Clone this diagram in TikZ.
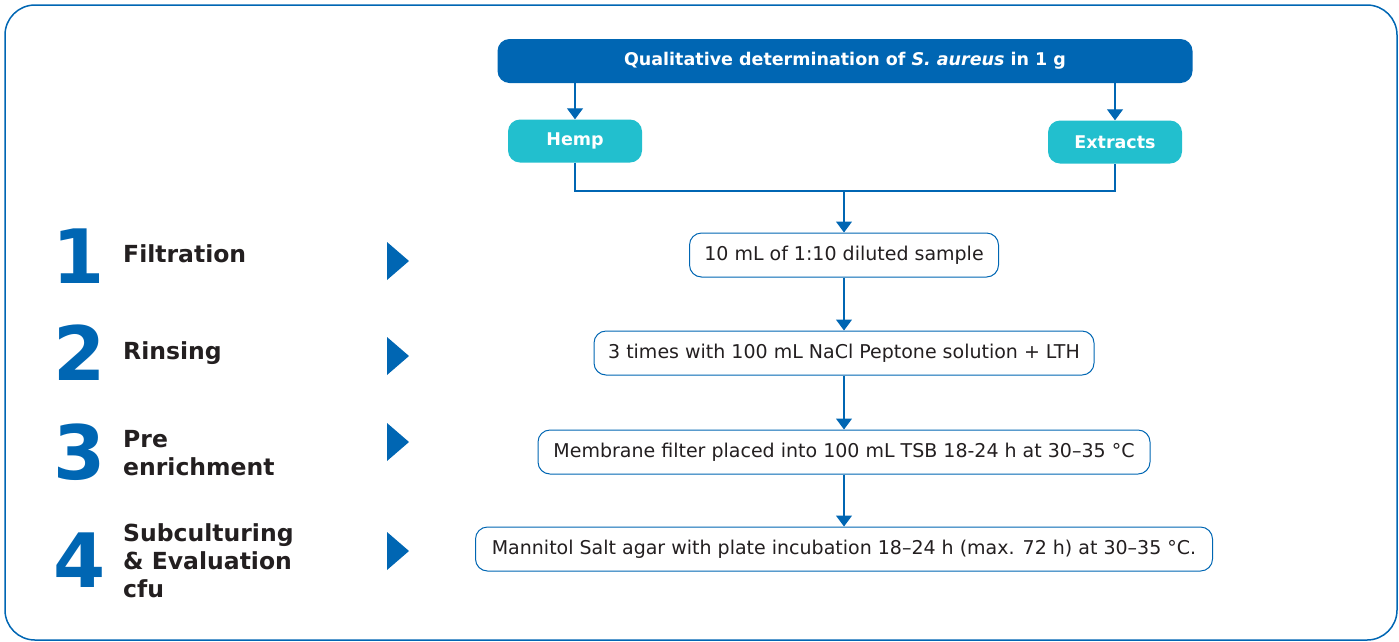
\documentclass[tikz,border=0pt]{standalone}
\usepackage{fontspec}
\setmainfont{DejaVu Sans}
\usepackage{xcolor}
\usetikzlibrary{arrows.meta}
\usetikzlibrary{positioning}

\definecolor{mblue}{HTML}{0066B3}
\definecolor{mcyan}{HTML}{22BFCE}
\definecolor{mtext}{HTML}{231F20}

\tikzset{
  stepbox/.style={draw=mblue, line width=1pt, rounded corners=12pt, fill=white,
    minimum height=44pt, inner sep=0pt, text=mtext, font=\fontsize{19}{22}\selectfont},
  matbox/.style={fill=mcyan, rounded corners=12pt, minimum width=134pt, minimum height=43pt,
    inner sep=0pt, text=white, font=\fontsize{17.5}{20}\selectfont\bfseries},
  flow/.style={draw=mblue, line width=1.2pt},
  flowarr/.style={flow, -{Triangle[width=16pt,length=11pt]}},
  bignum/.style={inner sep=0pt, text=mblue, font=\fontsize{75}{75}\selectfont\bfseries},
  steplabel/.style={anchor=west, inner sep=0pt, align=left, text=mtext,
    font=\fontsize{23.5}{28}\selectfont\bfseries},
}

\begin{document}
\begin{tikzpicture}[x=1pt,y=-1pt]
  \useasboundingbox (0,0) rectangle (1399,641);
  % frame
  \draw[mblue, line width=1.5pt, rounded corners=30pt] (5,5) rectangle (1397,640);

  % header and sample types
  \node[fill=mblue, rounded corners=12pt, minimum width=695pt, minimum height=44pt, inner sep=0pt,
    text=white, font=\fontsize{17.5}{20}\selectfont\bfseries]
    (title) at (845,61) {Qualitative determination of \textit{S. aureus} in 1 g};
  \node[matbox] (hemp) at (575,141) {Hemp};
  \node[matbox] (extracts) at (1115,142) {Extracts};
  \draw[flowarr] (hemp |- title.south) -- (hemp.north);
  \draw[flowarr] (extracts |- title.south) -- (extracts.north);

  % flow steps
  \node[stepbox, minimum width=309pt] (s1) at (844,255) {10 mL of 1:10 diluted sample};
  \node[stepbox, minimum width=500pt] (s2) at (844,353) {3 times with 100 mL NaCl Peptone solution + LTH};
  \node[stepbox, minimum width=612pt] (s3) at (844,452) {Membrane filter placed into 100 mL TSB 18-24 h at 30–35 °C};
  \node[stepbox, minimum width=737pt] (s4) at (844,549) {Mannitol Salt agar with plate incubation 18–24 h (max. 72 h) at 30–35 °C.};

  \coordinate (join) at (844,191);
  \draw[flow] (hemp.south) -- (hemp.south |- join) -- (extracts.south |- join) -- (extracts.south);
  \draw[flowarr] (join) -- (s1.north);
  \draw[flowarr] (s1) -- (s2);
  \draw[flowarr] (s2) -- (s3);
  \draw[flowarr] (s3) -- (s4);

  % step numbers and names
  \node[bignum] (n1) at (79,256) {1};
  \node[bignum] (n2) at (80,353) {2};
  \node[bignum] (n3) at (80,452) {3};
  \node[bignum] (n4) at (80,560) {4};
  \node[steplabel] (l1) at (123,254) {Filtration};
  \node[steplabel] (l2) at (123,353) {Rinsing};
  \node[steplabel] (l3) at (123,453) {Pre\\enrichment};
  \node[steplabel] (l4) at (123,561) {Subculturing\\\& Evaluation\\cfu};

  % pointers
  \foreach \yc in {261,356,442,551}
    \fill[mblue] (387,\yc-19) -- (409,\yc) -- (387,\yc+19) -- cycle;
\end{tikzpicture}
\end{document}
